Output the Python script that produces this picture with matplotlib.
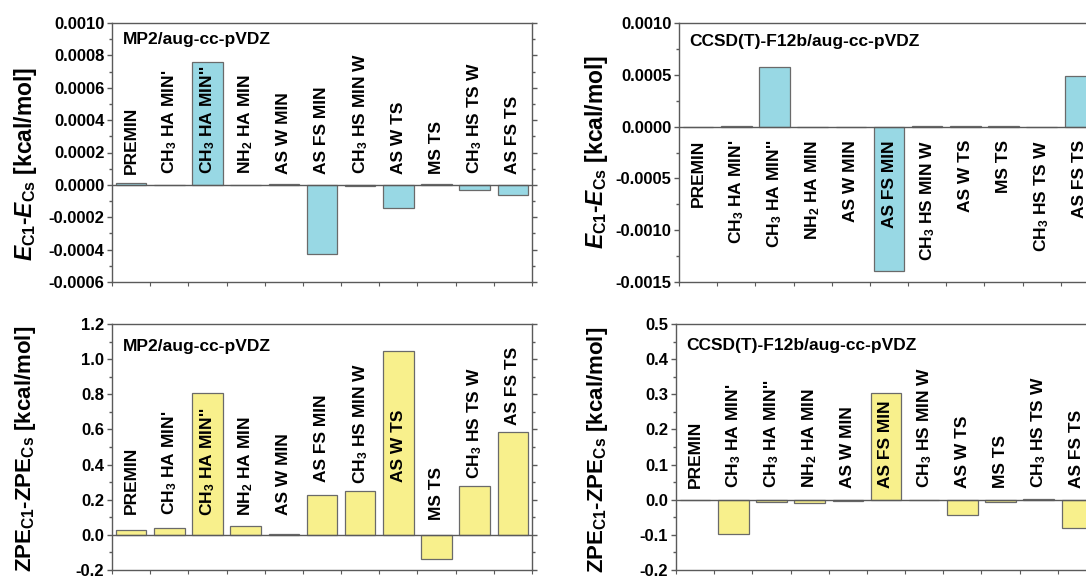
import matplotlib
matplotlib.use("Agg")
import numpy as np
import matplotlib.pyplot as plt
from matplotlib.ticker import MultipleLocator, FormatStrFormatter

plt.rcParams.update({
    'font.family': ['Liberation Sans', 'DejaVu Sans'],
    'font.weight': 'bold',
    'mathtext.fontset': 'custom',
    'mathtext.rm': 'Liberation Sans',
    'mathtext.it': 'Liberation Sans:italic:bold',
    'mathtext.bf': 'Liberation Sans:bold',
    'axes.unicode_minus': False,
})

# ---------------- data ----------------
categories = ["PREMIN", "CH$_3$ HA MIN'", "CH$_3$ HA MIN''", "NH$_2$ HA MIN",
              "AS W MIN", "AS FS MIN", "CH$_3$ HS MIN W", "AS W TS", "MS TS",
              "CH$_3$ HS TS W", "AS FS TS"]

e_mp2 = [0.000010, 0.0, 0.000760, 0.0, 0.000005, -0.000430, -0.000005,
         -0.000145, 0.000005, -0.000033, -0.000062]
e_ccsd = [0.0, 0.000005, 0.000578, 0.0, 0.0, -0.001396, 0.000008,
          0.000008, 0.000003, -0.000005, 0.000490]
zpe_mp2 = [0.029, 0.039, 0.809, 0.050, 0.004, 0.229, 0.247, 1.044,
           -0.139, 0.277, 0.588]
zpe_ccsd = [-0.002, -0.098, -0.007, -0.008, -0.004, 0.305, -0.001,
            -0.044, -0.007, 0.001, -0.081]

title_mp2 = "MP2/aug-cc-pVDZ"
title_ccsd = "CCSD(T)-F12b/aug-cc-pVDZ"
ylabel_e = r"$E_{\mathrm{C1}}$-$E_{\mathrm{Cs}}$ [kcal/mol]"
ylabel_zpe = r"ZPE$_{\mathrm{C1}}$-ZPE$_{\mathrm{Cs}}$ [kcal/mol]"

# label anchor heights (layout)
zpe_mp2_label_base = [0.12, 0.115, 0.105, 0.11, 0.115, 0.30, 0.29, 0.30,
                      0.087, 0.32, 0.625]

# ---------------- layout ----------------
W, H = 1086, 577
fig = plt.figure(figsize=(W / 100, H / 100), dpi=100)

BLUE = '#98D8E4'
YELLOW = '#F8F08C'
EDGE = '#6a6a6a'
SPINE = '#5a5a5a'


def px_axes(l, t, r, b):
    return fig.add_axes([l / W, 1 - b / H, (r - l) / W, (b - t) / H])


def panel(box, values, ylim, major, minor, fmt, color, title, title_dy,
          label_y, label_va):
    ax = px_axes(*box)
    x = np.arange(len(categories))
    ax.bar(x, values, width=0.8, color=color, edgecolor=EDGE, linewidth=0.9,
           zorder=2)
    ax.axhline(0, color=SPINE, lw=1.0, zorder=3)
    ax.set_xlim(-0.5, len(categories) - 0.5)
    ax.set_ylim(*ylim)
    ax.yaxis.set_major_locator(MultipleLocator(major))
    ax.yaxis.set_minor_locator(MultipleLocator(minor))
    ax.yaxis.set_major_formatter(FormatStrFormatter(fmt))
    ax.set_xticks(np.arange(-0.5, len(categories), 1.0))
    ax.set_xticklabels([])
    for s in ax.spines.values():
        s.set_color(SPINE)
        s.set_linewidth(1.0)
    ax.tick_params(axis='y', which='both', direction='out', left=True,
                   right=True, labelright=False, color=SPINE, width=1.0)
    ax.tick_params(axis='y', which='major', length=3.5, pad=2,
                   labelsize=12)
    ax.tick_params(axis='y', which='minor', length=2)
    ax.tick_params(axis='x', which='both', direction='out', length=3,
                   color=SPINE, top=False)
    for lab in ax.get_yticklabels():
        lab.set_fontweight('bold')
    ax.annotate(title, xy=(0, 1), xycoords='axes fraction',
                xytext=(7.5, -title_dy), textcoords='offset points',
                ha='left', va='center', fontsize=12.5, fontweight='bold')
    for i, name in enumerate(categories):
        yy = label_y[i] if isinstance(label_y, list) else label_y
        ax.text(i, yy, name, rotation=90, ha='center', va=label_va,
                fontsize=12.5, fontweight='bold', zorder=4)
    return ax


panel((112, 23, 532, 282), e_mp2, (-0.0006, 0.0010), 0.0002, 0.0001,
      '%.4f', BLUE, title_mp2, 12.2, 0.00007, 'bottom')
panel((679, 23, 1099, 282), e_ccsd, (-0.0015, 0.0010), 0.0005, 0.00025,
      '%.4f', BLUE, title_ccsd, 13.0, -0.00013, 'top')
panel((112, 324, 532, 570), zpe_mp2, (-0.2, 1.2), 0.2, 0.1,
      '%.1f', YELLOW, title_mp2, 16.2, zpe_mp2_label_base, 'bottom')
panel((676, 324, 1096, 570), zpe_ccsd, (-0.2, 0.5), 0.1, 0.05,
      '%.1f', YELLOW, title_ccsd, 15.2, 0.033, 'bottom')

# y labels
fig.text(26 / W, 1 - 164 / H, ylabel_e, rotation=90, ha='center',
         va='center', fontsize=16.5, fontweight='bold')
fig.text(596 / W, 1 - 152 / H, ylabel_e, rotation=90, ha='center',
         va='center', fontsize=16.5, fontweight='bold')
fig.text(26 / W, 1 - 449 / H, ylabel_zpe, rotation=90, ha='center',
         va='center', fontsize=16.0, fontweight='bold')
fig.text(597 / W, 1 - 450 / H, ylabel_zpe, rotation=90, ha='center',
         va='center', fontsize=16.0, fontweight='bold')

fig.savefig('out.png', dpi=100)
